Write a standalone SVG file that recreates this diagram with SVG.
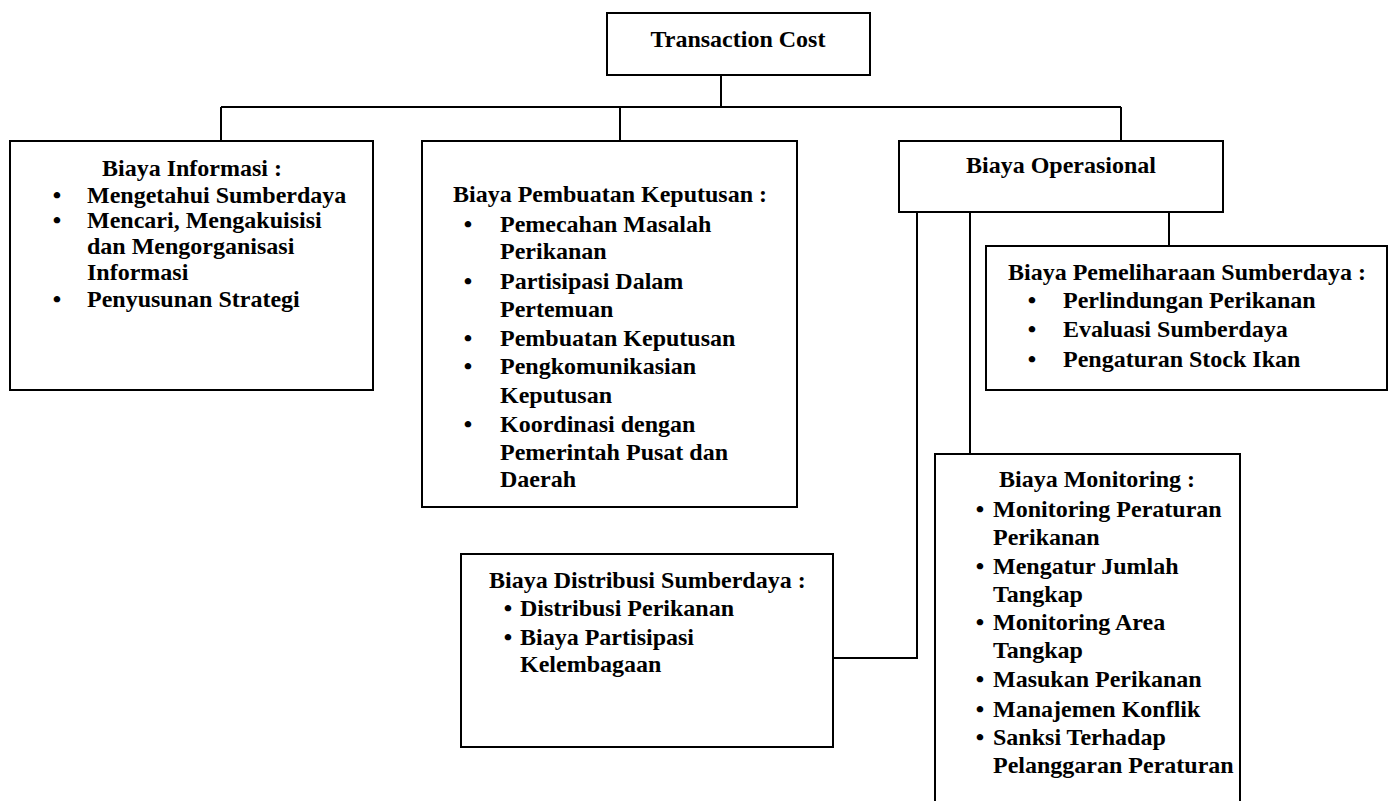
<svg xmlns="http://www.w3.org/2000/svg" width="1394" height="801" viewBox="0 0 1394 801">
<style>
.box{fill:#fff;stroke:#000;stroke-width:2}
.conn{fill:none;stroke:#000;stroke-width:2}
text{font-family:"Liberation Serif","Times New Roman",serif;font-weight:bold;font-size:24px;fill:#000}
.c{text-anchor:middle}
.b{text-anchor:middle}
</style>
<rect width="1394" height="801" fill="#fff"/>
<g id="connectors">
<path class="conn" d="M721 75V107M221 107H1121M221 107V141M620 107V141M1121 107V141"/>
<path class="conn" d="M917 212V658H833"/>
<path class="conn" d="M970 212V454"/>
<path class="conn" d="M1169 212V246"/>
</g>
<g id="transaction-cost">
<rect class="box" x="607" y="13" width="263" height="62"/>
<text class="c" x="738" y="47">Transaction Cost</text>
</g>
<g id="biaya-informasi">
<rect class="box" x="10" y="141" width="363" height="249"/>
<text x="102" y="176">Biaya Informasi :</text>
<text class="b" x="57" y="203">•</text><text x="87" y="203">Mengetahui Sumberdaya</text>
<text class="b" x="57" y="228">•</text><text x="87" y="228">Mencari, Mengakuisisi</text>
<text x="87" y="254">dan Mengorganisasi</text>
<text x="87" y="280">Informasi</text>
<text class="b" x="57" y="307">•</text><text x="87" y="307">Penyusunan Strategi</text>
</g>
<g id="biaya-pembuatan-keputusan">
<rect class="box" x="422" y="141" width="375" height="366"/>
<text x="453" y="202">Biaya Pembuatan Keputusan :</text>
<text class="b" x="468" y="232">•</text><text x="500" y="232">Pemecahan Masalah</text>
<text x="500" y="259">Perikanan</text>
<text class="b" x="468" y="289">•</text><text x="500" y="289">Partisipasi Dalam</text>
<text x="500" y="317">Pertemuan</text>
<text class="b" x="468" y="346">•</text><text x="500" y="346">Pembuatan Keputusan</text>
<text class="b" x="468" y="374">•</text><text x="500" y="374">Pengkomunikasian</text>
<text x="500" y="403">Keputusan</text>
<text class="b" x="468" y="432">•</text><text x="500" y="432">Koordinasi dengan</text>
<text x="500" y="460">Pemerintah Pusat dan</text>
<text x="500" y="487">Daerah</text>
</g>
<g id="biaya-operasional">
<rect class="box" x="899" y="141" width="324" height="71"/>
<text class="c" x="1061" y="173">Biaya Operasional</text>
</g>
<g id="biaya-pemeliharaan-sumberdaya">
<rect class="box" x="986" y="246" width="401" height="144"/>
<text x="1008" y="280">Biaya Pemeliharaan Sumberdaya :</text>
<text class="b" x="1032" y="308">•</text><text x="1063" y="308">Perlindungan Perikanan</text>
<text class="b" x="1032" y="337">•</text><text x="1063" y="337">Evaluasi Sumberdaya</text>
<text class="b" x="1032" y="367">•</text><text x="1063" y="367">Pengaturan Stock Ikan</text>
</g>
<g id="biaya-distribusi-sumberdaya">
<rect class="box" x="461" y="554" width="372" height="193"/>
<text x="489" y="588">Biaya Distribusi Sumberdaya :</text>
<text class="b" x="508" y="616">•</text><text x="520" y="616">Distribusi Perikanan</text>
<text class="b" x="508" y="645">•</text><text x="520" y="645">Biaya Partisipasi</text>
<text x="520" y="672">Kelembagaan</text>
</g>
<g id="biaya-monitoring">
<rect class="box" x="935" y="454" width="305" height="360"/>
<text x="999" y="487">Biaya Monitoring :</text>
<text class="b" x="980" y="517">•</text><text x="993" y="517">Monitoring Peraturan</text>
<text x="993" y="545">Perikanan</text>
<text class="b" x="980" y="574">•</text><text x="993" y="574">Mengatur Jumlah</text>
<text x="993" y="602">Tangkap</text>
<text class="b" x="980" y="630">•</text><text x="993" y="630">Monitoring Area</text>
<text x="993" y="658">Tangkap</text>
<text class="b" x="980" y="687">•</text><text x="993" y="687">Masukan Perikanan</text>
<text class="b" x="980" y="717">•</text><text x="993" y="717">Manajemen Konflik</text>
<text class="b" x="980" y="745">•</text><text x="993" y="745">Sanksi Terhadap</text>
<text x="993" y="773">Pelanggaran Peraturan</text>
</g>
</svg>
